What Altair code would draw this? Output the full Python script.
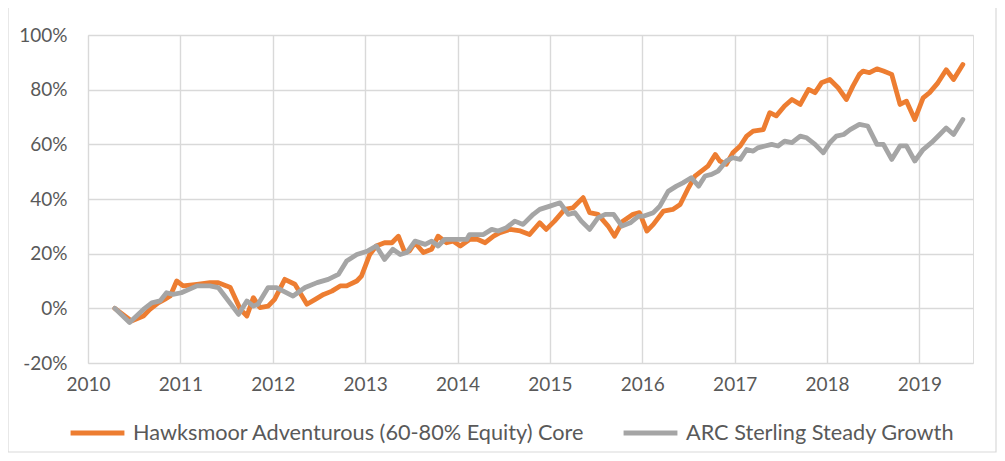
import altair as alt
import pandas as pd

SERIES = ["Hawksmoor Adventurous (60-80% Equity) Core", "ARC Sterling Steady Growth"]
COLORS = ["#ED7D31", "#A5A5A5"]

haw_t = [2010.29, 2010.47, 2010.60, 2010.67, 2010.76, 2010.83, 2010.89, 2010.96, 2011.03, 2011.18,
         2011.32, 2011.41, 2011.50, 2011.54, 2011.65, 2011.72, 2011.79, 2011.86, 2011.95, 2012.02,
         2012.13, 2012.24, 2012.37, 2012.46, 2012.55, 2012.64, 2012.73, 2012.80, 2012.91, 2012.96,
         2013.05, 2013.12, 2013.21, 2013.29, 2013.36, 2013.43, 2013.48, 2013.54, 2013.63, 2013.72,
         2013.79, 2013.88, 2013.95, 2014.03, 2014.13, 2014.22, 2014.30, 2014.39, 2014.46, 2014.57,
         2014.68, 2014.78, 2014.89, 2014.96, 2015.05, 2015.16, 2015.25, 2015.36, 2015.43, 2015.52,
         2015.63, 2015.70, 2015.79, 2015.90, 2015.97, 2016.05, 2016.12, 2016.23, 2016.33, 2016.41,
         2016.50, 2016.57, 2016.64, 2016.71, 2016.79, 2016.84, 2016.91, 2016.98, 2017.06, 2017.13,
         2017.20, 2017.31, 2017.38, 2017.45, 2017.54, 2017.62, 2017.71, 2017.80, 2017.87, 2017.94,
         2018.03, 2018.12, 2018.21, 2018.28, 2018.35, 2018.39, 2018.46, 2018.54, 2018.61, 2018.70,
         2018.79, 2018.86, 2018.95, 2019.04, 2019.11, 2019.20, 2019.29, 2019.37, 2019.47]
haw_v = [0.0, -4.6, -2.8, -0.4, 2.0, 3.3, 4.5, 10.0, 8.2, 8.8,
         9.4, 9.4, 8.2, 7.6, -0.4, -2.8, 3.9, 0.3, 0.8, 3.3,
         10.6, 8.8, 1.5, 3.3, 5.1, 6.3, 8.2, 8.2, 10.0, 11.8,
         19.7, 22.8, 24.0, 24.0, 26.4, 20.4, 21.0, 24.0, 20.4, 21.6,
         26.4, 24.0, 24.6, 22.8, 25.2, 25.2, 24.0, 26.4, 27.7, 28.9,
         28.3, 27.0, 31.3, 28.9, 31.9, 36.2, 36.8, 40.5, 35.0, 34.4,
         30.1, 26.4, 31.9, 34.4, 35.0, 28.3, 30.7, 35.6, 36.2, 38.0,
         44.1, 48.4, 50.2, 52.0, 56.3, 53.9, 52.7, 56.9, 59.4, 63.0,
         64.8, 65.4, 71.6, 70.4, 74.0, 76.4, 74.6, 80.1, 78.9, 82.5,
         83.7, 80.7, 76.4, 81.3, 85.6, 86.8, 86.2, 87.6, 86.8, 85.6,
         74.6, 75.8, 69.1, 77.0, 78.9, 82.5, 87.3, 83.7, 89.2]

arc_t = [2010.29, 2010.45, 2010.60, 2010.69, 2010.78, 2010.85, 2010.92, 2011.01, 2011.18, 2011.32,
         2011.41, 2011.48, 2011.63, 2011.72, 2011.79, 2011.84, 2011.95, 2012.04, 2012.22, 2012.35,
         2012.48, 2012.60, 2012.71, 2012.80, 2012.91, 2013.03, 2013.12, 2013.21, 2013.30, 2013.38,
         2013.45, 2013.54, 2013.65, 2013.72, 2013.79, 2013.86, 2013.99, 2014.10, 2014.13, 2014.28,
         2014.37, 2014.44, 2014.53, 2014.62, 2014.71, 2014.82, 2014.89, 2015.00, 2015.11, 2015.20,
         2015.27, 2015.34, 2015.43, 2015.52, 2015.60, 2015.69, 2015.78, 2015.87, 2015.96, 2016.01,
         2016.12, 2016.19, 2016.28, 2016.37, 2016.44, 2016.53, 2016.61, 2016.68, 2016.75, 2016.82,
         2016.91, 2016.98, 2017.06, 2017.13, 2017.20, 2017.25, 2017.33, 2017.40, 2017.47, 2017.54,
         2017.62, 2017.71, 2017.78, 2017.87, 2017.96, 2018.03, 2018.10, 2018.18, 2018.25, 2018.35,
         2018.44, 2018.54, 2018.61, 2018.70, 2018.79, 2018.86, 2018.95, 2019.04, 2019.13, 2019.22,
         2019.29, 2019.37, 2019.47]
arc_v = [0.0, -5.2, -0.4, 2.0, 2.7, 5.7, 5.1, 5.7, 8.2, 8.2,
         7.6, 4.5, -2.2, 2.7, 0.8, 1.5, 7.6, 7.6, 4.5, 7.6,
         9.4, 10.6, 12.4, 17.3, 19.7, 21.0, 22.8, 17.9, 21.6, 19.7,
         20.4, 24.6, 23.4, 24.6, 22.8, 25.2, 25.2, 25.2, 27.0, 27.0,
         28.9, 28.3, 29.5, 31.9, 30.7, 34.4, 36.2, 37.4, 38.6, 34.4,
         35.0, 31.9, 28.9, 33.1, 34.4, 34.4, 30.1, 31.3, 33.7, 33.7,
         35.0, 37.4, 42.8, 44.7, 45.9, 47.8, 44.7, 48.4, 49.0, 50.2,
         53.9, 55.1, 54.5, 58.1, 57.5, 58.7, 59.4, 60.0, 59.4, 61.2,
         60.6, 63.0, 62.4, 60.0, 56.9, 60.6, 63.0, 63.6, 65.4, 67.3,
         66.7, 60.0, 60.0, 54.5, 59.4, 59.4, 53.9, 58.1, 60.6, 63.6,
         66.0, 63.6, 69.1]

year_ticks = list(range(2010, 2020))
pct_ticks = [-20, 0, 20, 40, 60, 80, 100]

df = pd.concat([
    pd.DataFrame({"t": haw_t, "v": haw_v, "s": SERIES[0]}),
    pd.DataFrame({"t": arc_t, "v": arc_v, "s": SERIES[1]}),
])

FONT = "Lato"
TXT = "#595959"
GRID = "#D9D9D9"

x = alt.X("t:Q", scale=alt.Scale(domain=[2010, 2019.58], nice=False, zero=False),
          axis=alt.Axis(values=year_ticks, format="d", title=None, domain=False, ticks=False,
                        grid=True, gridColor=GRID, gridWidth=1.4, labelPadding=12,
                        labelFlush=False, labelFontSize=19, labelColor=TXT, labelFont=FONT))
y = alt.Y("v:Q", scale=alt.Scale(domain=[-20, 100], nice=False),
          axis=alt.Axis(values=pct_ticks, labelExpr="datum.value + '%'", title=None, domain=False,
                        ticks=False, grid=True, gridColor=GRID, gridWidth=1.4, labelPadding=21,
                        labelFlush=False, labelFontSize=19, labelColor=TXT, labelFont=FONT))
color = alt.Color("s:N", scale=alt.Scale(domain=SERIES, range=COLORS),
                  legend=alt.Legend(title=None, orient="none", legendX=-20, legendY=368,
                                    direction="horizontal", symbolType="stroke",
                                    symbolStrokeWidth=5, symbolSize=2900, labelFontSize=21.7,
                                    labelColor=TXT, labelFont=FONT, labelOffset=6,
                                    columnPadding=28, labelLimit=0))

base = alt.Chart(df)
haw = base.transform_filter(alt.datum.s == SERIES[0]).mark_line(
    strokeWidth=4.8, strokeJoin="round", strokeCap="round").encode(x=x, y=y, color=color, order="t:Q")
arc = base.transform_filter(alt.datum.s == SERIES[1]).mark_line(
    strokeWidth=4.8, strokeJoin="round", strokeCap="round").encode(x=x, y=y, color=color, order="t:Q")

frame = alt.Chart(pd.DataFrame({"a": [0]})).mark_rect(
    filled=False, stroke=GRID, strokeWidth=1.2, clip=False).encode(
    x=alt.value(-80), x2=alt.value(908), y=alt.value(-40), y2=alt.value(417))

chart = alt.layer(frame, haw, arc).properties(
    width=885, height=328,
    autosize=alt.AutoSizeParams(type="none"),
    padding={"left": 80, "top": 27, "right": 24, "bottom": 90},
).configure_view(stroke=None).configure(background="white")

chart.save("out.html", embed_options={"renderer": "svg", "actions": False})
